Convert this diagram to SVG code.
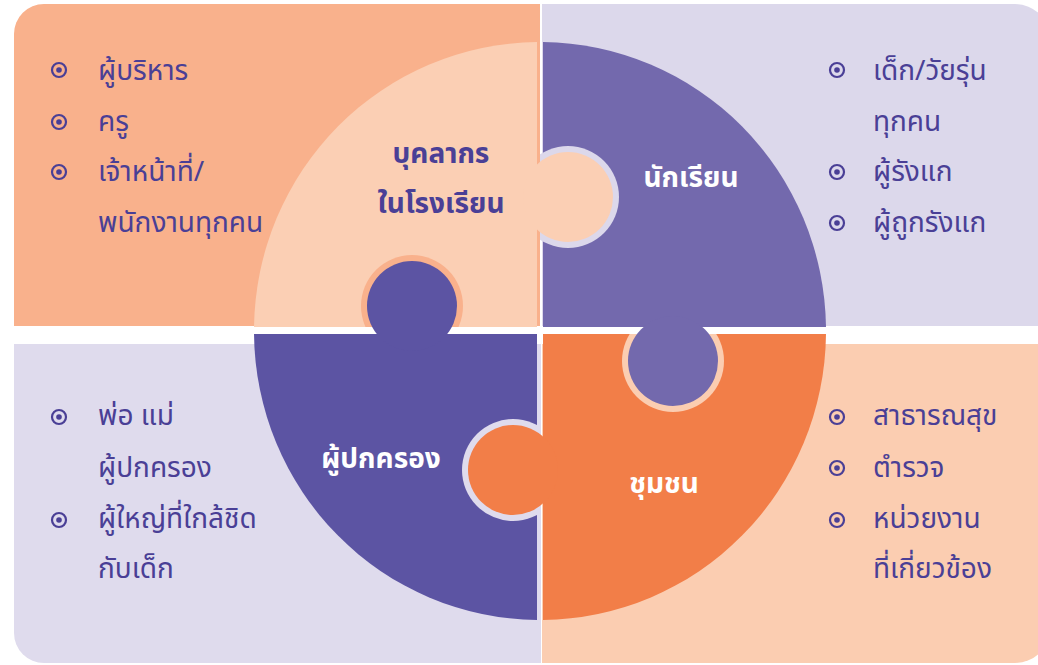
<svg xmlns="http://www.w3.org/2000/svg" width="1038" height="665" viewBox="0 0 1038 665">
  <style>
    .item { font-family: "Noto Sans Thai", "Noto Sans", "DejaVu Sans", sans-serif; font-size: 28px; fill: #4A3F96; }
    .lab { font-family: "Noto Sans Thai", "Noto Sans", "DejaVu Sans", sans-serif; font-size: 28px; font-weight: bold; text-anchor: middle; }
    .bul { fill: none; stroke: #4A3F96; stroke-width: 2.2; }
    .dot { fill: #4A3F96; }
  </style>
  <defs>
    <g id="bullet">
      <circle class="bul" cx="0" cy="0" r="7"/>
      <circle class="dot" cx="0" cy="0" r="2.8"/>
    </g>
    <clipPath id="cTL"><rect x="0" y="0" width="541" height="327"/></clipPath>
    <clipPath id="cTR"><rect x="540" y="0" width="500" height="327"/></clipPath>
    <clipPath id="cBL"><rect x="0" y="334" width="537" height="340"/></clipPath>
    <clipPath id="cBR"><rect x="543" y="334" width="500" height="340"/></clipPath>
  </defs>
  <rect width="1038" height="665" fill="#FFFFFF"/>

  <!-- backgrounds -->
  <g id="backgrounds">
    <path d="M14 34 A30 30 0 0 1 44 4 L540 4 L540 326 L14 326 Z" fill="#F9B18C"/>
    <path d="M542 4 L1015 4 A35 35 0 0 1 1050 39 L1050 326 L542 326 Z" fill="#DCD8EB"/>
    <path d="M14 344 L541 344 L541 663 L44 663 A30 30 0 0 1 14 633 Z" fill="#DFDBED"/>
    <path d="M542 344 L1050 344 L1050 628 A35 35 0 0 1 1015 663 L542 663 Z" fill="#FBCDB1"/>
  </g>

  <!-- puzzle pieces -->
  <g id="piece-staff">
    <path d="M537 327 L254 327 A286 289 0 0 1 537 42 Z" fill="#FBCFB4"/>
    <circle cx="412" cy="306" r="51" fill="#F9B18C" clip-path="url(#cTL)"/>
  </g>
  <g id="piece-students">
    <path d="M543 327 L543 42 A286 289 0 0 1 826 327 Z" fill="#7369AD"/>
    <circle cx="568" cy="197" r="51" fill="#DCD8EB" clip-path="url(#cTR)"/>
  </g>
  <g id="piece-parents">
    <path d="M537 334 L254 334 A286 289 0 0 0 537 620 Z" fill="#5C54A3"/>
    <circle cx="513" cy="470" r="51" fill="#DFDBED" clip-path="url(#cBL)"/>
  </g>
  <g id="piece-community">
    <path d="M543 334 L826 334 A286 289 0 0 1 543 620 Z" fill="#F27E48"/>
    <circle cx="673" cy="361" r="51" fill="#FBCDB1" clip-path="url(#cBR)"/>
  </g>
  <g id="knobs">
    <circle cx="412" cy="306" r="45" fill="#5C54A3"/>
    <circle cx="568" cy="197" r="45" fill="#FBCFB4"/>
    <circle cx="513" cy="470" r="45" fill="#F27E48"/>
    <circle cx="673" cy="361" r="45" fill="#7369AD"/>
  </g>

  <!-- piece labels -->
  <g id="labels">
    <text class="lab" x="441" y="163" fill="#4A3F96">บุคลากร</text>
    <text class="lab" x="441" y="213" fill="#4A3F96">ในโรงเรียน</text>
    <text class="lab" x="691" y="187" fill="#FFFFFF">นักเรียน</text>
    <text class="lab" x="381" y="468" fill="#FFFFFF">ผู้ปกครอง</text>
    <text class="lab" x="664" y="493" fill="#FFFFFF">ชุมชน</text>
  </g>

  <!-- lists -->
  <g id="list-staff">
    <use href="#bullet" x="59" y="70"/>
    <use href="#bullet" x="59" y="122"/>
    <use href="#bullet" x="59" y="172"/>
    <text class="item" x="98" y="80">ผู้บริหาร</text>
    <text class="item" x="98" y="131">ครู</text>
    <text class="item" x="98" y="181">เจ้าหน้าที่/</text>
    <text class="item" x="98" y="232">พนักงานทุกคน</text>
  </g>
  <g id="list-students">
    <use href="#bullet" x="837" y="70"/>
    <use href="#bullet" x="837" y="172"/>
    <use href="#bullet" x="837" y="223"/>
    <text class="item" x="873" y="80">เด็ก/วัยรุ่น</text>
    <text class="item" x="873" y="131">ทุกคน</text>
    <text class="item" x="873" y="181">ผู้รังแก</text>
    <text class="item" x="873" y="232">ผู้ถูกรังแก</text>
  </g>
  <g id="list-parents">
    <use href="#bullet" x="59" y="417"/>
    <use href="#bullet" x="59" y="520"/>
    <text class="item" x="98" y="425">พ่อ แม่</text>
    <text class="item" x="98" y="477">ผู้ปกครอง</text>
    <text class="item" x="98" y="528">ผู้ใหญ่ที่ใกล้ชิด</text>
    <text class="item" x="98" y="578">กับเด็ก</text>
  </g>
  <g id="list-community">
    <use href="#bullet" x="837" y="417"/>
    <use href="#bullet" x="837" y="468"/>
    <use href="#bullet" x="837" y="520"/>
    <text class="item" x="873" y="425">สาธารณสุข</text>
    <text class="item" x="873" y="477">ตำรวจ</text>
    <text class="item" x="873" y="528">หน่วยงาน</text>
    <text class="item" x="873" y="578">ที่เกี่ยวข้อง</text>
  </g>
</svg>
